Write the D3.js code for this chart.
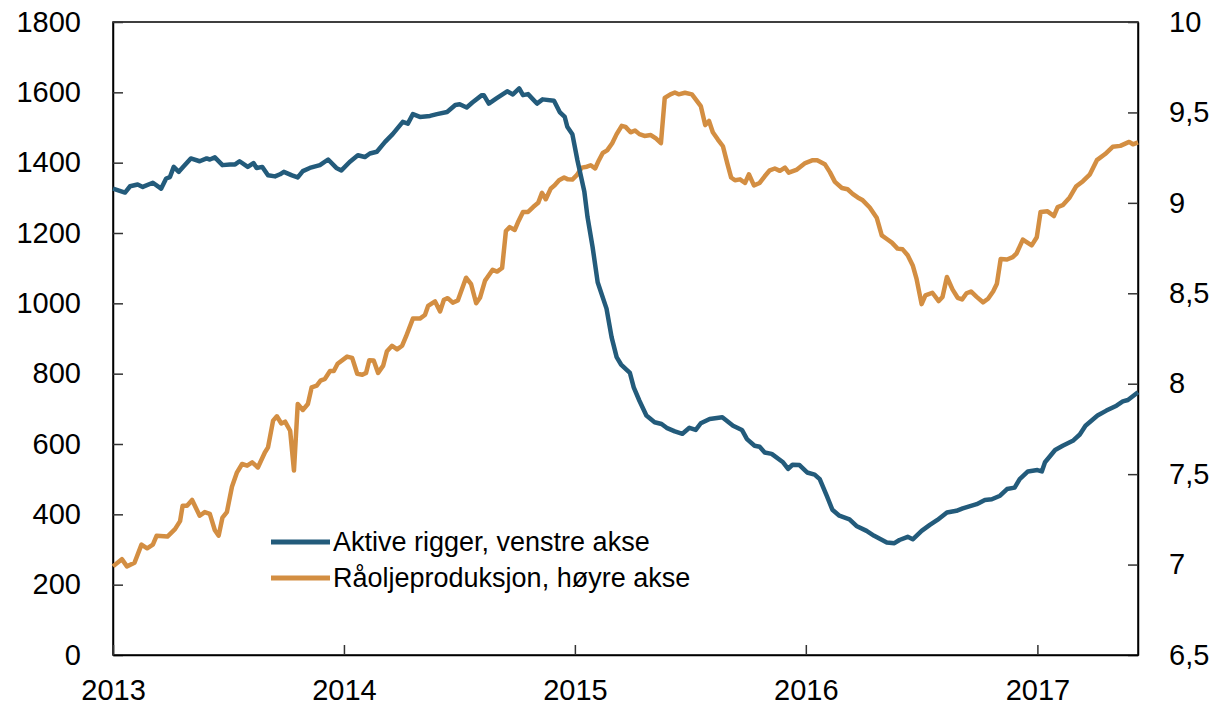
<!DOCTYPE html>
<html>
<head>
<meta charset="utf-8">
<script src="https://cdn.jsdelivr.net/npm/d3@7"></script>
<style>
  body { margin: 0; background: #fff; }
  svg { font-family: "Liberation Sans", Arial, sans-serif; }
</style>
</head>
<body>
<div id="chart"></div>
<script>
// Aktive rigger (venstre akse)
const rigDates = [
  "2013-01-01","2013-01-20","2013-01-28","2013-02-09","2013-02-17","2013-03-05","2013-03-18","2013-03-26",
  "2013-04-01","2013-04-07","2013-04-15","2013-04-21","2013-05-04","2013-05-18","2013-05-29","2013-06-03",
  "2013-06-11","2013-06-23","2013-07-05","2013-07-13","2013-07-20","2013-08-02","2013-08-11","2013-08-16",
  "2013-08-25","2013-09-03","2013-09-14","2013-09-22","2013-09-28","2013-10-11","2013-10-20","2013-10-28",
  "2013-11-08","2013-11-24","2013-12-07","2013-12-20","2013-12-28","2014-01-10","2014-01-23","2014-02-03",
  "2014-02-11","2014-02-22","2014-03-07","2014-03-19","2014-04-04","2014-04-12","2014-04-20","2014-05-01",
  "2014-05-17","2014-05-28","2014-06-13","2014-06-26","2014-07-03","2014-07-14","2014-07-23","2014-08-07",
  "2014-08-10","2014-08-18","2014-08-30","2014-09-16","2014-09-25","2014-10-05","2014-10-11","2014-10-19",
  "2014-11-02","2014-11-11","2014-11-29","2014-12-08","2014-12-16","2014-12-20","2014-12-28","2015-01-05",
  "2015-01-16","2015-01-21","2015-01-29","2015-02-06","2015-02-20","2015-02-28","2015-03-08","2015-03-15",
  "2015-03-29","2015-04-04","2015-04-13","2015-04-24","2015-05-07","2015-05-18","2015-05-26","2015-06-08",
  "2015-06-20","2015-07-01","2015-07-11","2015-07-19","2015-08-02","2015-08-22","2015-09-08","2015-09-22",
  "2015-09-30","2015-10-12","2015-10-20","2015-10-28","2015-11-08","2015-11-26","2015-12-04","2015-12-11",
  "2015-12-22","2016-01-03","2016-01-15","2016-01-23","2016-02-03","2016-02-12","2016-02-23","2016-03-10",
  "2016-03-21","2016-04-06","2016-04-18","2016-05-08","2016-05-20","2016-05-28","2016-06-10","2016-06-18",
  "2016-07-02","2016-07-15","2016-07-27","2016-08-11","2016-08-26","2016-09-05","2016-09-27","2016-10-10",
  "2016-10-21","2016-11-03","2016-11-14","2016-11-26","2016-12-04","2016-12-17","2017-01-01","2017-01-08",
  "2017-01-13","2017-01-29","2017-02-10","2017-02-26","2017-03-09","2017-03-18","2017-04-06","2017-04-20",
  "2017-05-06","2017-05-16","2017-05-24","2017-06-09"
];
const rigValues = [
  1326,1315,1333,1338,1331,1343,1326,1355,
  1359,1388,1374,1386,1412,1404,1412,1409,
  1415,1393,1395,1395,1404,1388,1399,1385,
  1388,1364,1361,1367,1374,1364,1358,1376,
  1385,1393,1409,1385,1378,1402,1421,1416,
  1426,1431,1459,1481,1516,1511,1538,1530,
  1533,1538,1544,1564,1566,1557,1571,1592,
  1592,1568,1583,1603,1594,1611,1592,1595,
  1568,1580,1576,1544,1530,1502,1481,1407,
  1317,1245,1160,1060,985,904,847,826,
  802,761,723,681,662,657,646,636,
  629,646,640,659,671,676,652,640,
  614,595,592,576,572,548,529,541,
  540,519,513,500,453,413,396,386,
  367,353,339,320,318,327,336,329,
  353,370,384,405,410,417,429,441,
  443,453,472,476,500,522,526,522,
  548,583,595,609,627,652,681,695,
  709,721,725,747
];

// Råoljeproduksjon (høyre akse)
const prodDates = [
  "2013-01-01","2013-01-15","2013-01-23","2013-02-04","2013-02-15","2013-02-24","2013-03-05","2013-03-11",
  "2013-03-28","2013-04-09","2013-04-17","2013-04-21","2013-04-28","2013-05-06","2013-05-18","2013-05-26",
  "2013-06-03","2013-06-11","2013-06-17","2013-06-23","2013-06-30","2013-07-08","2013-07-16","2013-07-24",
  "2013-08-01","2013-08-09","2013-08-18","2013-08-29","2013-09-03","2013-09-11","2013-09-17","2013-09-24",
  "2013-09-30","2013-10-08","2013-10-14","2013-10-20","2013-10-28","2013-11-05","2013-11-11","2013-11-19",
  "2013-11-25","2013-12-02","2013-12-10","2013-12-16","2013-12-22","2014-01-06","2014-01-14","2014-01-22",
  "2014-01-30","2014-02-05","2014-02-10","2014-02-17","2014-02-24","2014-03-04","2014-03-10","2014-03-18",
  "2014-03-26","2014-04-03","2014-04-09","2014-04-20","2014-05-01","2014-05-09","2014-05-14","2014-05-25",
  "2014-06-02","2014-06-08","2014-06-14","2014-06-22","2014-06-30","2014-07-13","2014-07-21","2014-07-29",
  "2014-08-04","2014-08-12","2014-08-16","2014-08-24","2014-08-31","2014-09-08","2014-09-14","2014-09-20",
  "2014-09-28","2014-10-04","2014-10-11","2014-10-19","2014-10-27","2014-11-04","2014-11-10","2014-11-16",
  "2014-11-24","2014-11-30","2014-12-07","2014-12-15","2014-12-21","2014-12-28","2015-01-04","2015-01-12",
  "2015-01-20","2015-01-26","2015-02-02","2015-02-08","2015-02-14","2015-02-21","2015-03-01","2015-03-08",
  "2015-03-16","2015-03-22","2015-03-30","2015-04-06","2015-04-13","2015-04-21","2015-05-01","2015-05-09",
  "2015-05-17","2015-05-23","2015-06-01","2015-06-08","2015-06-14","2015-06-24","2015-07-05","2015-07-11",
  "2015-07-19","2015-07-26","2015-08-01","2015-08-07","2015-08-15","2015-08-23","2015-08-30","2015-09-05",
  "2015-09-11","2015-09-19","2015-09-27","2015-10-03","2015-10-11","2015-10-20","2015-10-28","2015-11-05",
  "2015-11-13","2015-11-21","2015-11-29","2015-12-05","2015-12-18","2015-12-31","2016-01-12","2016-01-19",
  "2016-01-31","2016-02-08","2016-02-16","2016-02-27","2016-03-07","2016-03-15","2016-03-23","2016-03-31",
  "2016-04-11","2016-04-22","2016-04-30","2016-05-08","2016-05-16","2016-05-25","2016-06-02","2016-06-10",
  "2016-06-18","2016-06-24","2016-07-02","2016-07-08","2016-07-19","2016-07-29","2016-08-04","2016-08-11",
  "2016-08-20","2016-08-28","2016-09-04","2016-09-11","2016-09-18","2016-09-27","2016-10-07","2016-10-15",
  "2016-10-23","2016-10-29","2016-11-04","2016-11-14","2016-11-23","2016-11-29","2016-12-09","2016-12-15",
  "2016-12-23","2016-12-31","2017-01-06","2017-01-17","2017-01-27","2017-02-02","2017-02-10","2017-02-21",
  "2017-03-03","2017-03-14","2017-03-25","2017-04-05","2017-04-18","2017-04-30","2017-05-12","2017-05-26",
  "2017-06-01","2017-06-09"
];
const prodValues = [
  6.99,7.03,6.99,7.01,7.11,7.09,7.11,7.16,
  7.155,7.196,7.24,7.325,7.325,7.357,7.27,7.29,
  7.28,7.19,7.16,7.26,7.29,7.43,7.51,7.556,
  7.547,7.565,7.537,7.62,7.648,7.796,7.82,7.78,
  7.79,7.74,7.52,7.888,7.855,7.888,7.98,7.99,
  8.017,8.027,8.07,8.07,8.11,8.15,8.143,8.055,
  8.05,8.06,8.13,8.128,8.06,8.1,8.18,8.21,
  8.19,8.21,8.26,8.36,8.36,8.38,8.43,8.455,
  8.4,8.464,8.473,8.448,8.46,8.586,8.55,8.445,
  8.475,8.57,8.59,8.63,8.62,8.64,8.844,8.866,
  8.85,8.9,8.95,8.95,8.977,9.0,9.055,9.02,
  9.08,9.097,9.125,9.14,9.13,9.129,9.153,9.195,
  9.2,9.208,9.19,9.236,9.276,9.29,9.33,9.38,
  9.426,9.42,9.39,9.4,9.38,9.37,9.375,9.356,
  9.33,9.58,9.6,9.61,9.6,9.609,9.6,9.572,
  9.535,9.43,9.453,9.39,9.35,9.313,9.217,9.14,
  9.125,9.13,9.11,9.158,9.097,9.11,9.147,9.18,
  9.19,9.177,9.195,9.167,9.184,9.22,9.236,9.236,
  9.214,9.17,9.116,9.082,9.075,9.05,9.03,9.014,
  8.974,8.918,8.82,8.8,8.78,8.747,8.743,8.71,
  8.654,8.58,8.44,8.488,8.503,8.457,8.48,8.59,
  8.52,8.475,8.466,8.5,8.51,8.48,8.45,8.47,
  8.51,8.553,8.69,8.687,8.7,8.72,8.797,8.783,
  8.765,8.81,8.95,8.953,8.927,8.977,8.987,9.03,
  9.09,9.12,9.158,9.236,9.27,9.31,9.315,9.337,
  9.324,9.334
];

const leftTicks = [0, 200, 400, 600, 800, 1000, 1200, 1400, 1600, 1800];
const rightTicks = [6.5, 7, 7.5, 8, 8.5, 9, 9.5, 10];
const yearTicks = ["2013", "2014", "2015", "2016", "2017"];
const seriesNames = ["Aktive rigger, venstre akse", "Råoljeproduksjon, høyre akse"];
const seriesColors = ["#235b7b", "#d38e42"];

const WIDTH = 1218, HEIGHT = 712;
const MARGIN = { TOP: 22, BOTTOM: 57, LEFT: 113, RIGHT: 80 };
const W = WIDTH - MARGIN.LEFT - MARGIN.RIGHT;
const H = HEIGHT - MARGIN.TOP - MARGIN.BOTTOM;

const parse = d3.timeParse("%Y-%m-%d");
const rigs = rigDates.map((d, i) => ({ date: parse(d), value: rigValues[i] }));
const prod = prodDates.map((d, i) => ({ date: parse(d), value: prodValues[i] }));

const nb = d3.formatLocale({ decimal: ",", thousands: "\u00a0", grouping: [3], currency: ["", " kr"] });

const svg = d3.select("#chart").append("svg")
    .attr("width", WIDTH)
    .attr("height", HEIGHT)
  .append("g")
    .attr("transform", `translate(${MARGIN.LEFT},${MARGIN.TOP})`);

const x = d3.scaleTime()
  .domain([parse("2013-01-01"), parse("2017-06-09")])
  .range([0, W]);
const yL = d3.scaleLinear().domain([0, 1800]).range([H, 0]);
const yR = d3.scaleLinear().domain([6.5, 10]).range([H, 0]);

// frame
svg.append("rect")
  .attr("width", W).attr("height", H)
  .attr("fill", "none").attr("stroke", "#000").attr("stroke-width", 1.5);

const leftAxis = svg.append("g")
  .call(d3.axisLeft(yL).tickValues(leftTicks).tickFormat(d3.format("d"))
    .tickSizeInner(-10).tickSizeOuter(0).tickPadding(32));

const rightAxis = svg.append("g")
  .attr("transform", `translate(${W},0)`)
  .call(d3.axisRight(yR).tickValues(rightTicks).tickFormat(nb.format("~g"))
    .tickSizeInner(-10).tickSizeOuter(0).tickPadding(31));

const bottomAxis = svg.append("g")
  .attr("transform", `translate(0,${H})`)
  .call(d3.axisBottom(x).tickValues(yearTicks.map(y => parse(y + "-01-01")))
    .tickFormat(d3.timeFormat("%Y")).tickSizeInner(-10).tickSizeOuter(0).tickPadding(24));

[leftAxis, rightAxis, bottomAxis].forEach(g => {
  g.select(".domain").attr("stroke", "#000").attr("stroke-width", 1.5);
  g.selectAll(".tick line").attr("stroke", "#333").attr("stroke-width", 1.5);
  g.selectAll(".tick text")
    .attr("fill", "#000")
    .style("font-size", "29px")
    .style("font-family", "'Liberation Sans', Arial, sans-serif");
});

const lineL = d3.line().x(d => x(d.date)).y(d => yL(d.value));
const lineR = d3.line().x(d => x(d.date)).y(d => yR(d.value));

svg.append("path")
  .datum(prod)
  .attr("d", lineR)
  .attr("fill", "none")
  .attr("stroke", seriesColors[1])
  .attr("stroke-width", 4.5)
  .attr("stroke-linejoin", "round");

svg.append("path")
  .datum(rigs)
  .attr("d", lineL)
  .attr("fill", "none")
  .attr("stroke", seriesColors[0])
  .attr("stroke-width", 4.5)
  .attr("stroke-linejoin", "round");

// legend
const legend = svg.append("g")
  .attr("transform", `translate(${271 - MARGIN.LEFT},${542 - MARGIN.TOP})`);

seriesNames.forEach((name, i) => {
  const row = legend.append("g").attr("transform", `translate(0,${i * 36})`);
  row.append("line")
    .attr("x1", 0).attr("x2", 59)
    .attr("stroke", seriesColors[i]).attr("stroke-width", 5);
  row.append("text")
    .attr("x", 62)
    .attr("dy", "0.35em")
    .style("font-size", "27px")
    .text(name);
});
</script>
</body>
</html>
